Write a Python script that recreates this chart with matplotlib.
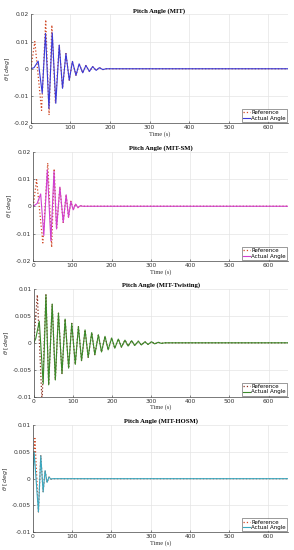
import matplotlib
matplotlib.use('Agg')
import matplotlib.pyplot as plt

# panel titles and colours of the lines
titles = ['Pitch Angle (MIT)', 'Pitch Angle (MIT-SM)',
          'Pitch Angle (MIT-Twisting)', 'Pitch Angle (MIT-HOSM)']
actual_colors = ['#3a3ad8', '#d040d0', '#3a8a2a', '#3aa8c0']
ref_colors = ['#d04a28', '#d04a28', '#8a3020', '#d04a28']

# panel 1 (MIT) - extrema
mit_t = [0, 8, 18.5, 28.7, 37, 45.6, 54, 63, 71.7, 80, 88.6, 97, 105, 114,
         122, 131, 139, 148, 156, 165, 173, 182, 190, 650]
mit_v = [0, 0.0004, 0.0028, -0.009, 0.013, -0.0146, 0.0132, -0.0127, 0.0087,
         -0.0072, 0.0056, -0.0042, 0.0027, -0.0024, 0.0018, -0.0015, 0.0012,
         -0.001, 0.0008, -0.0006, 0.0004, -0.0003, 0, 0]
mit_ref_t = [0, 10, 27, 37.5, 46, 53, 62, 71.7, 80, 88.6, 97, 105, 114,
             122, 131, 139, 148, 156, 165, 173, 182, 190, 650]
mit_ref_v = [0, 0.01, -0.0153, 0.018, -0.017, 0.016, -0.0125, 0.0087,
             -0.0072, 0.0056, -0.0042, 0.0027, -0.0024, 0.0018, -0.0015, 0.0012,
             -0.001, 0.0008, -0.0006, 0.0004, -0.0003, 0, 0]

# panel 2 (MIT-SM)
sm_t = [0, 10, 19, 27, 36, 45, 53, 59.5, 68, 76.5, 84, 90, 96, 102, 108,
        114, 120, 126, 650]
sm_v = [0, 0.001, 0.0045, -0.0107, 0.0133, -0.0126, 0.0128, -0.0083, 0.007,
        -0.0059, 0.0042, -0.004, 0.0018, -0.0013, 0.0008, -0.0005, 0.0002, 0, 0]
sm_ref_t = [0, 8.6, 24.5, 37, 47, 53.5, 59.5, 68, 76.5, 84, 90, 96, 102,
            108, 114, 120, 126, 650]
sm_ref_v = [0, 0.0097, -0.0134, 0.0158, -0.015, 0.0137, -0.0083, 0.007,
            -0.0059, 0.0042, -0.004, 0.0018, -0.0013, 0.0008, -0.0005, 0.0002,
            0, 0]

# panel 3 (MIT-Twisting)
tw_t = [0, 5, 14, 24, 31, 38, 47, 55, 63, 72, 80, 89, 97, 106, 114, 122,
        131, 139, 148, 156, 165, 173, 182, 190, 199, 207, 216, 224, 233, 241,
        250, 258, 267, 275, 284, 292, 301, 309, 318, 326, 335, 650]
tw_v = [0, 0.0008, 0.004, -0.0076, 0.0089, -0.0078, 0.0072, -0.0069, 0.0055,
        -0.0057, 0.0044, -0.0047, 0.0036, -0.004, 0.003, -0.0033, 0.0024,
        -0.0027, 0.0019, -0.0022, 0.0015, -0.0017, 0.0012, -0.0013, 0.0009,
        -0.001, 0.0007, -0.0008, 0.0005, -0.0006, 0.0004, -0.0005, 0.0003,
        -0.0004, 0.0002, -0.0003, 0.0002, -0.0002, 0.0001, -0.0001, 0, 0]
tw_ref_t = [0, 9, 21, 31, 38, 47, 55, 63, 72, 80, 89, 97, 106, 114, 122,
            131, 139, 148, 156, 165, 173, 182, 190, 199, 207, 216, 224, 233,
            241, 250, 258, 267, 275, 284, 292, 301, 309, 318, 326, 335, 650]
tw_ref_v = [0, 0.0089, -0.011, 0.0089, -0.0078, 0.0072, -0.0069, 0.0055,
            -0.0057, 0.0044, -0.0047, 0.0036, -0.004, 0.003, -0.0033, 0.0024,
            -0.0027, 0.0019, -0.0022, 0.0015, -0.0017, 0.0012, -0.0013, 0.0009,
            -0.001, 0.0007, -0.0008, 0.0005, -0.0006, 0.0004, -0.0005, 0.0003,
            -0.0004, 0.0002, -0.0003, 0.0002, -0.0002, 0.0001, -0.0001, 0, 0]

# panel 4 (MIT-HOSM)
ho_t = [0, 3, 14, 20, 26, 31, 36, 41, 46, 50, 650]
ho_v = [0, 0.005, -0.0062, 0.0043, -0.0025, 0.0015, -0.0007, 0.0003,
        -0.0001, 0, 0]
ho_ref_t = [0, 5, 14, 20, 26, 31, 36, 41, 46, 50, 650]
ho_ref_v = [0, 0.0075, -0.0062, 0.0043, -0.0025, 0.0015, -0.0007, 0.0003,
            -0.0001, 0, 0]

actual = [(mit_t, mit_v), (sm_t, sm_v), (tw_t, tw_v), (ho_t, ho_v)]
reference = [(mit_ref_t, mit_ref_v), (sm_ref_t, sm_ref_v),
             (tw_ref_t, tw_ref_v), (ho_ref_t, ho_ref_v)]

x_ticks = [0, 100, 200, 300, 400, 500, 600]
y_ticks_big = [-0.02, -0.01, 0, 0.01, 0.02]
y_labels_big = ['-0.02', '-0.01', '0', '0.01', '0.02']
y_ticks_small = [-0.01, -0.005, 0, 0.005, 0.01]
y_labels_small = ['-0.01', '-0.005', '0', '0.005', '0.01']

# axes rectangles (left, bottom, width, height) in figure fraction
rects = [(0.105, 0.776, 0.875, 0.198),
         (0.113, 0.5255, 0.867, 0.199),
         (0.115, 0.2787, 0.865, 0.196),
         (0.112, 0.0322, 0.868, 0.195)]

fig = plt.figure(figsize=(2.94, 5.5), dpi=100)

for i in range(4):
    ax = fig.add_axes(rects[i])
    t, v = actual[i]
    rt, rv = reference[i]
    ax.plot(rt, rv, linestyle=':', color=ref_colors[i], lw=0.9,
            label='Reference')
    ax.plot(t, v, color=actual_colors[i], lw=0.8, label='Actual Angle')
    ax.set_xlim(0, 650)
    if i < 2:
        ax.set_ylim(-0.02, 0.02)
        ax.set_yticks(y_ticks_big)
        ax.set_yticklabels(y_labels_big)
    else:
        ax.set_ylim(-0.01, 0.01)
        ax.set_yticks(y_ticks_small)
        ax.set_yticklabels(y_labels_small)
    ax.set_xticks(x_ticks)
    ax.grid(True, color='#e4e4e4', lw=0.5)
    ax.set_axisbelow(True)
    for s in ['top', 'right']:
        ax.spines[s].set_visible(False)
    for s in ['left', 'bottom']:
        ax.spines[s].set_color('#444444')
        ax.spines[s].set_linewidth(0.5)
    ax.tick_params(direction='in', length=1.5, width=0.4, labelsize=4.3,
                   colors='#333333', pad=1.5)
    ax.set_title(titles[i], fontsize=4.8, fontweight='bold',
                 family='Liberation Serif', pad=1.5)
    ax.set_xlabel('Time (s)', fontsize=4.6, family='Liberation Serif',
                  labelpad=0.5, color='#333333')
    ax.set_ylabel(r'$\theta$ [$deg$]', fontsize=4.6, labelpad=1,
                  color='#333333')
    leg = ax.legend(loc='lower right', fontsize=4, frameon=True,
                    fancybox=False, borderpad=0.2, handlelength=1.2,
                    handletextpad=0.3, labelspacing=0.1, borderaxespad=0.2)
    leg.get_frame().set_edgecolor('#222222')
    leg.get_frame().set_linewidth(0.4)

fig.savefig('out.png', dpi=100)
